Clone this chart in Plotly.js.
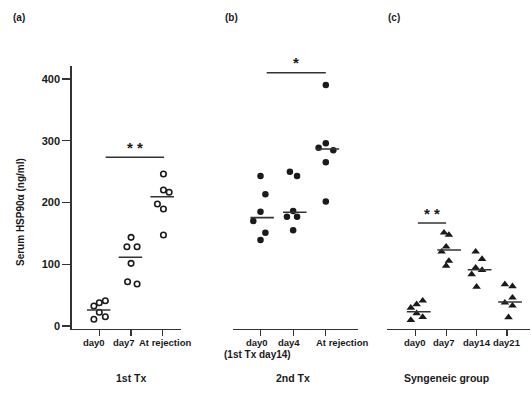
<!DOCTYPE html>
<html>
<head>
<meta charset="utf-8">
<script src="https://cdn.plot.ly/plotly-3.0.1.min.js"></script>
<style>html,body{margin:0;padding:0;background:#fff;}#chart{width:531px;height:395px;}</style>
</head>
<body>
<div id="chart"></div>
<script>
// ---------- data ----------
const catsA = ['day0', 'day7', 'At rejection'];
const catsB = ['day0', 'day4', 'At rejection'];
const catsB_note = '(1st Tx day14)';
const catsC = ['day0', 'day7', 'day14', 'day21'];

// Panel (a) 1st Tx, open circles
const a_day0 = [22.2, 32.4, 37.7, 41.0, 15.1, 10.9];
const a_day0_jit = [0, -0.17, 0, 0.19, 0.19, -0.17];
const a_day7 = [143.6, 128.4, 128.4, 101.5, 71.7, 68.0];
const a_day7_jit = [0, -0.13, 0.19, 0, -0.11, 0.19];
const a_rej = [246.2, 220.3, 216.5, 197.6, 189.5, 147.4];
const a_rej_jit = [0.02, 0.02, 0.2, -0.17, 0.02, 0.02];
const a_means = [25.9, 111.3, 209.4];

// Panel (b) 2nd Tx, filled circles
const b_day0 = [242.9, 213.3, 185.1, 170.0, 151.1, 139.3];
const b_day0_jit = [0, 0.15, 0, -0.22, 0.15, 0];
const b_day4 = [249.9, 242.9, 186.2, 177.0, 177.0, 155.0];
const b_day4_jit = [-0.1, 0.12, 0, -0.19, 0.12, 0];
const b_rej = [390.3, 295.9, 288.7, 284.5, 265.1, 201.6];
const b_rej_jit = [0, 0, -0.22, 0.23, 0, 0];
const b_means = [175.5, 184.1, 286.6];

// Panel (c) Syngeneic group, triangles
const c_day0 = [41.0, 35.1, 29.6, 20.6, 14.6, 9.7];
const c_day0_jit = [0.23, 0.03, -0.16, 0.03, 0.23, -0.16];
const c_day7 = [151.1, 147.4, 128.4, 120.3, 105.3, 97.6];
const c_day7_jit = [-0.07, 0.09, 0, -0.15, 0.09, 0];
const c_day14 = [120.3, 108.5, 94.4, 90.7, 83.7, 63.6];
const c_day14_jit = [-0.03, 0.18, -0.03, 0.18, -0.16, 0];
const c_day21 = [67.5, 64.3, 45.8, 37.7, 32.9, 14.1];
const c_day21_jit = [-0.07, 0.18, 0.18, -0.07, 0.18, 0.05];
const c_means = [23.2, 123.1, 91.2, 38.9];

// significance brackets
const sigA = {from: 0.2, to: 2.04, level: 273.2, label: '* *'};
const sigB = {from: 0.19, to: 2.0, level: 410.2, label: '*'};
const sigC = {from: 0.07, to: 1.0, level: 166.8, label: '* *'};

const yTicks = [0, 100, 200, 300, 400];

// ---------- build ----------
const FONT = 'Liberation Sans, Arial, Helvetica, sans-serif';
const INK = '#1a1a1a';
const LINE = '#333333';
const traces = [];

function addGroup(vals, jit, idx, xa, marker) {
  traces.push({
    type: 'scatter', mode: 'markers', xaxis: xa, yaxis: 'y',
    x: vals.map((v, i) => idx + jit[i]), y: vals,
    marker: marker, hoverinfo: 'y', showlegend: false, cliponaxis: false
  });
}
function addMeans(means, xa, center, half) {
  means.forEach((m, i) => {
    traces.push({
      type: 'scatter', mode: 'lines', xaxis: xa, yaxis: 'y',
      x: [i + center - half, i + center + half], y: [m, m],
      line: {color: LINE, width: 1.6}, hoverinfo: 'skip', showlegend: false
    });
  });
}
function addSig(s, xa) {
  traces.push({
    type: 'scatter', mode: 'lines', xaxis: xa, yaxis: 'y',
    x: [s.from, s.to], y: [s.level, s.level],
    line: {color: LINE, width: 1.5}, hoverinfo: 'skip', showlegend: false, cliponaxis: false
  });
}

const mOpen = {symbol: 'circle-open', size: 5.5, color: INK, line: {width: 1.6, color: INK}};
const mFill = {symbol: 'circle', size: 6.5, color: INK, line: {width: 0}};
const mTri = {symbol: 'triangle-up', size: 7.5, color: INK, line: {width: 0}};

addGroup(a_day0, a_day0_jit, 0, 'x', mOpen);
addGroup(a_day7, a_day7_jit, 1, 'x', mOpen);
addGroup(a_rej, a_rej_jit, 2, 'x', mOpen);
addMeans(a_means, 'x', -0.02, 0.37);
addSig(sigA, 'x');

addGroup(b_day0, b_day0_jit, 0, 'x2', mFill);
addGroup(b_day4, b_day4_jit, 1, 'x2', mFill);
addGroup(b_rej, b_rej_jit, 2, 'x2', mFill);
addMeans(b_means, 'x2', 0.05, 0.36);
addSig(sigB, 'x2');

addGroup(c_day0, c_day0_jit, 0, 'x3', mTri);
addGroup(c_day7, c_day7_jit, 1, 'x3', mTri);
addGroup(c_day14, c_day14_jit, 2, 'x3', mTri);
addGroup(c_day21, c_day21_jit, 3, 'x3', mTri);
addMeans(c_means, 'x3', 0.1, 0.39);
addSig(sigC, 'x3');

const W = 531, H = 395;
const px = v => v / W;
const py = v => (H - v) / H;

function xAxis(domain, range, cats) {
  return {
    domain: domain, range: range, anchor: 'y',
    tickmode: 'array', tickvals: cats.map((c, i) => i), ticktext: cats,
    showticklabels: false, automargin: false,
    showline: true, linecolor: LINE, linewidth: 1.3,
    ticks: 'outside', ticklen: 6, tickwidth: 1.2, tickcolor: LINE,
    showgrid: false, zeroline: false, fixedrange: true
  };
}

// category labels under each axis (placed as in the original figure)
const annotations = [];
function catLabels(cats, xref, shifts) {
  cats.forEach((c, i) => {
    annotations.push({
      xref: xref, yref: 'paper', x: i, y: py(342), xshift: shifts[i],
      text: c, showarrow: false, xanchor: 'center', yanchor: 'middle',
      font: {family: FONT, size: 9.5, color: INK, weight: 700}
    });
  });
}
catLabels(catsA, 'x', [-5, -7, 2]);
catLabels(catsB, 'x2', [-3, -4, 16]);
catLabels(catsC, 'x3', [-1, -2, 0, 0]);
annotations.push({
  xref: 'x2', yref: 'paper', x: 0, y: py(354.5), xshift: -3,
  text: catsB_note, showarrow: false, xanchor: 'center', yanchor: 'middle',
  font: {family: FONT, size: 10, color: INK, weight: 700}
});

function starAnn(s, xref) {
  return {
    xref: xref, yref: 'y', x: (s.from + s.to) / 2, y: s.level, yshift: 10,
    text: s.label, showarrow: false, xanchor: 'center', yanchor: 'middle',
    font: {family: FONT, size: 15, color: INK, weight: 700}
  };
}
function titleAnn(text, xref, x) {
  return {
    xref: xref, yref: 'paper', x: x, y: py(378), text: text, showarrow: false,
    xanchor: 'center', yanchor: 'middle',
    font: {family: FONT, size: 10.5, color: INK, weight: 700}
  };
}
function panelAnn(text, x) {
  return {
    xref: 'paper', yref: 'paper', x: px(x), y: py(17), text: text, showarrow: false,
    xanchor: 'left', yanchor: 'middle',
    font: {family: FONT, size: 10, color: INK, weight: 700}
  };
}

annotations.push(
  starAnn(sigA, 'x'), starAnn(sigB, 'x2'), starAnn(sigC, 'x3'),
  titleAnn('1st Tx', 'x', 1), titleAnn('2nd Tx', 'x2', 1), titleAnn('Syngeneic group', 'x3', 1),
  panelAnn('(a)', 11), panelAnn('(b)', 223), panelAnn('(c)', 386),
  {
    xref: 'paper', yref: 'paper', x: px(20), y: py(212), text: 'Serum HSP90α (ng/ml)',
    textangle: -90, showarrow: false, xanchor: 'center', yanchor: 'middle',
    font: {family: FONT, size: 10, color: INK, weight: 700}
  }
);

const layout = {
  width: W, height: H,
  margin: {l: 0, r: 0, t: 0, b: 0},
  paper_bgcolor: '#ffffff', plot_bgcolor: '#ffffff',
  showlegend: false,
  xaxis: xAxis([px(71.5), px(181)], [-0.876, 2.573], catsA),
  xaxis2: xAxis([px(233), px(358)], [-0.842, 2.986], catsB),
  xaxis3: xAxis([px(386.5), px(530)], [-0.96, 3.756], catsC),
  yaxis: {
    domain: [py(328.5), py(66)], range: [-4, 421], anchor: 'x',
    tickmode: 'array', tickvals: yTicks, automargin: false,
    showline: true, linecolor: LINE, linewidth: 1.3,
    ticks: 'outside', ticklen: 8, tickwidth: 1.2, tickcolor: LINE,
    showgrid: false, zeroline: false, fixedrange: true,
    tickfont: {family: FONT, size: 11, color: INK, weight: 700}
  },
  annotations: annotations
};

Plotly.newPlot('chart', traces, layout, {displayModeBar: false, staticPlot: true});
</script>
</body>
</html>
